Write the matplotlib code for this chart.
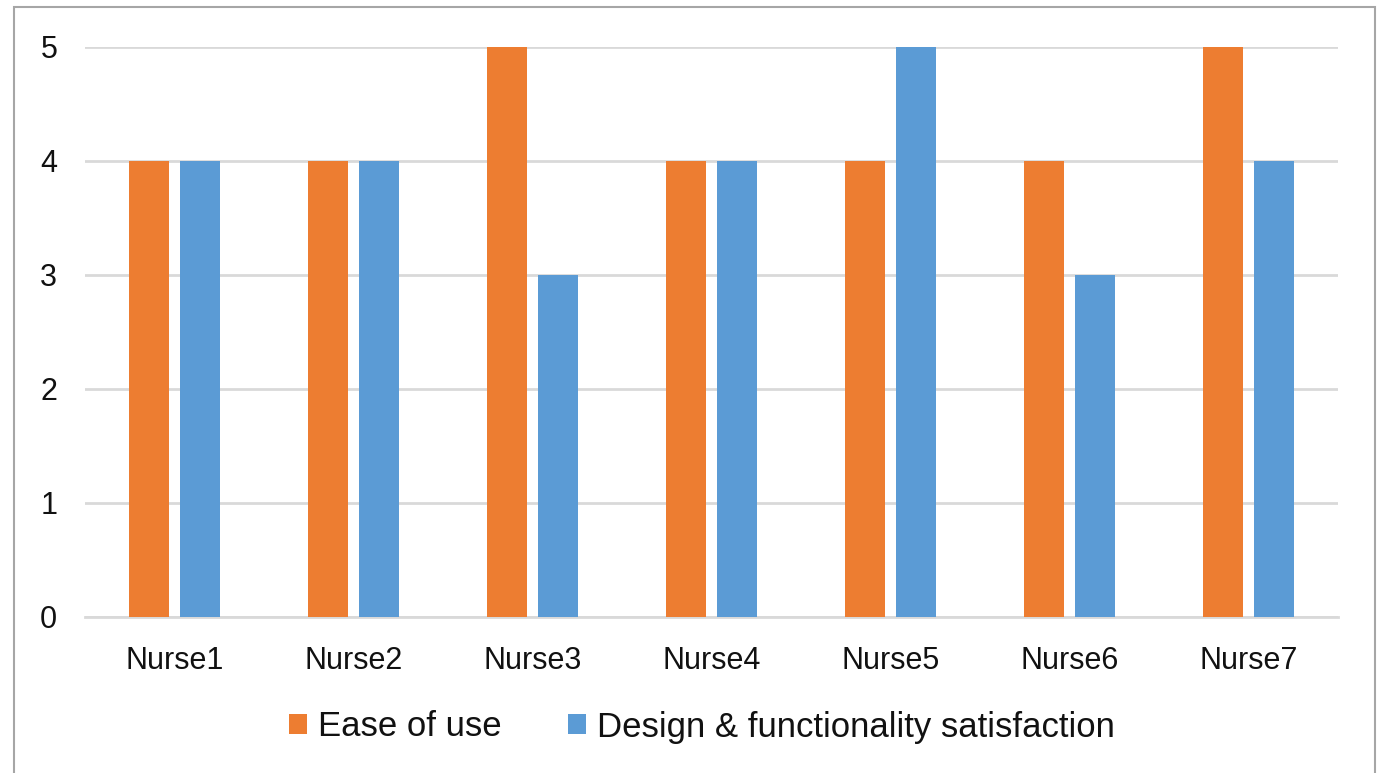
import matplotlib.pyplot as plt
import numpy as np
from matplotlib.patches import Rectangle

plt.rcParams['font.family'] = ['Liberation Sans', 'DejaVu Sans']

nurses = ['Nurse1', 'Nurse2', 'Nurse3', 'Nurse4', 'Nurse5', 'Nurse6', 'Nurse7']
ease_of_use = [4, 4, 5, 4, 4, 4, 5]
design_satisfaction = [4, 4, 3, 4, 5, 3, 4]
series_names = ['Ease of use', 'Design & functionality satisfaction']
yticks = [0, 1, 2, 3, 4, 5]

orange = '#ED7D31'
blue = '#5B9BD5'
txt = '#111111'

W, H = 1380, 773
fig = plt.figure(figsize=(W / 100, H / 100), dpi=100)
ax = fig.add_axes([85 / W, 1 - 617 / H, (1338 - 85) / W, (617 - 47) / H])

x = np.arange(len(nurses))
bw = 0.223
off = bw / 2 + 0.031
ax.bar(x - off, ease_of_use, bw, color=orange, label=series_names[0], zorder=3)
ax.bar(x + off, design_satisfaction, bw, color=blue, label=series_names[1], zorder=3)

ax.set_xlim(-0.5, len(nurses) - 0.5)
ax.set_ylim(0, 5)
ax.set_yticks(yticks)
ax.set_xticks(x)
ax.set_xticklabels(nurses)
ax.tick_params(axis='both', length=0, labelsize=22, colors=txt)
ax.tick_params(axis='x', pad=21)
ax.tick_params(axis='y', pad=20)
ax.yaxis.grid(True, color='#D9D9D9', linewidth=2, zorder=0)
for s in ['top', 'right', 'left']:
    ax.spines[s].set_visible(False)
ax.spines['bottom'].set_color('#D9D9D9')
ax.spines['bottom'].set_linewidth(2)
ax.spines['bottom'].set_zorder(1)

leg = fig.legend(loc='center', bbox_to_anchor=(702 / W, 1 - 727 / H), ncol=2, frameon=False,
                 fontsize=25, handlelength=0.52, handleheight=0.52, handletextpad=0.32,
                 columnspacing=1.9, labelcolor=txt)

# outer chart border
fig.patches.append(Rectangle((14 / W, -0.05), (1375 - 14) / W, 1.05 - 7 / H,
                             transform=fig.transFigure, fill=False,
                             edgecolor='#A6A6A6', linewidth=1.5))

fig.savefig('out.png', dpi=100)
